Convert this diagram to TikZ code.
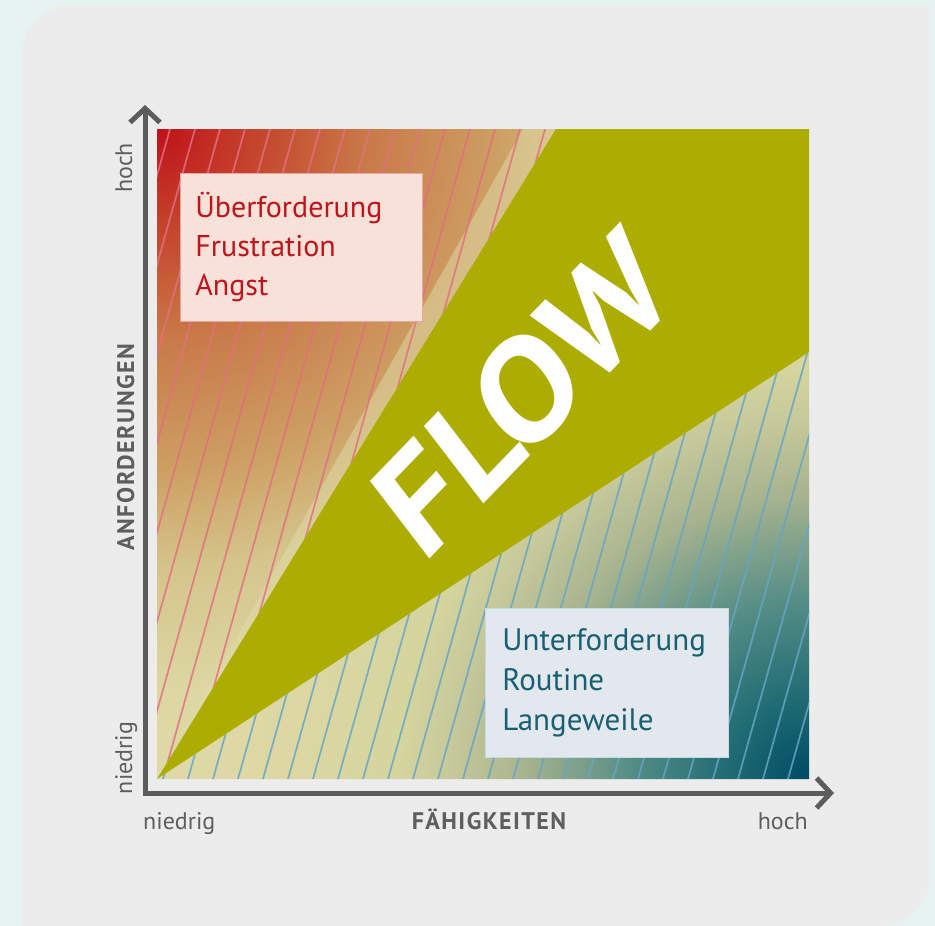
\documentclass[tikz,border=0pt]{standalone}
\usepackage{fontspec}
\setmainfont{PT Sans}
\usetikzlibrary{arrows.meta}

% palette
\definecolor{mint}{HTML}{E6F3F0}
\definecolor{panel}{HTML}{ECECEC}
\definecolor{flowgreen}{HTML}{ADAC00}
\definecolor{axisgray}{HTML}{5C5C5C}
\definecolor{labelgray}{HTML}{5E5E5E}
\definecolor{hotred}{HTML}{C0141B}
\definecolor{coolteal}{HTML}{175F72}
\definecolor{hotfill}{HTML}{F7E1D9}
\definecolor{hotline}{HTML}{E5A7A4}
\definecolor{coolfill}{HTML}{E3E8EF}
\definecolor{coolline}{HTML}{C9D9E2}
\definecolor{pinkhatch}{HTML}{E26F82}
\definecolor{bluehatch}{HTML}{65A5C6}
\definecolor{pale}{HTML}{E0DCAA}
% stops of the warm corner
\definecolor{ra}{HTML}{BF111A}
\definecolor{rb}{HTML}{C4402A}
\definecolor{rc}{HTML}{C97A48}
\definecolor{rd}{HTML}{CD9F62}
\definecolor{re}{HTML}{D5C58C}
\definecolor{rf}{HTML}{DCD7A3}
% stops of the cool corner
\definecolor{ta}{HTML}{004A63}
\definecolor{tb}{HTML}{1F6B73}
\definecolor{tc}{HTML}{568E86}
\definecolor{td}{HTML}{A8B48F}
\definecolor{te}{HTML}{C5C89A}
\definecolor{tf}{HTML}{D5D59E}

\pgfdeclareradialshading{hotfade}{\pgfpoint{0bp}{0bp}}{%
  color(0bp)=(ra); color(90bp)=(rb); color(210bp)=(rc); color(340bp)=(rd);
  color(440bp)=(re); color(560bp)=(rf); color(800bp)=(pale)}
\pgfdeclareradialshading{coolfade}{\pgfpoint{0bp}{0bp}}{%
  color(0bp)=(ta); color(80bp)=(tb); color(180bp)=(tc); color(285bp)=(td);
  color(355bp)=(te); color(410bp)=(tf); color(510bp)=(rf); color(800bp)=(pale)}

\tikzset{
  axisline/.style={draw=axisgray, line width=5pt, line join=miter,
    {Straight Barb[length=14pt,width=30pt]}-{Straight Barb[length=14pt,width=30pt]}},
  ticklabel/.style={text=labelgray, font=\fontsize{24}{28}\selectfont, inner sep=0pt},
  axistitle/.style={text=labelgray, font=\fontsize{24}{28}\selectfont\bfseries\addfontfeature{LetterSpace=6}, inner sep=0pt},
  hotbox/.style={draw=hotline, fill=hotfill, line width=0.8pt, anchor=north west,
    minimum width=242pt, minimum height=148pt, inner xsep=15pt, inner ysep=0pt,
    text width=212pt, align=left, text=hotred, font=\fontsize{30}{39}\selectfont},
  coolbox/.style={draw=coolline, fill=coolfill, line width=0.8pt, anchor=north west,
    minimum width=243pt, minimum height=149pt, inner xsep=17pt, inner ysep=0pt,
    text width=209pt, align=left, text=coolteal, font=\fontsize{31}{40}\selectfont},
  flowtext/.style={text=white, inner sep=0pt, rotate=46, xslant=0.15, xscale=1.1,
    font=\fontsize{138}{138}\selectfont\bfseries},
  hatch/.style={line width=1.7pt, opacity=0.85},
}

\begin{document}
\begin{tikzpicture}[x=1pt, y=-1pt]
  \useasboundingbox (0,0) rectangle (935,926);
  \fill[mint] (0,0) rectangle (935,926);

  % panel with two rounded corners
  \fill[panel] (22,926) -- (22,55) arc[start angle=180, end angle=270, radius=50]
    -- (930,5) -- (930,876) arc[start angle=0, end angle=90, radius=50] -- cycle;

  % corner points of the chart
  \coordinate (origin) at (157,779);
  \coordinate (tl) at (157,129);
  \coordinate (tr) at (809,129);
  \coordinate (br) at (809,779);
  \coordinate (flowtop) at (556,129);
  \coordinate (flowright) at (809,352);

  % upper-left zone: demands exceed skills
  \begin{scope}
    \clip (origin) -- (tl) -- (flowtop) -- cycle;
    \node[inner sep=0pt, outer sep=0pt] (hotshade) at (tl) {\pgfuseshading{hotfade}};
    \fill[pale, opacity=0.5] (origin) -- (523,129) -- (flowtop) -- cycle;
    \foreach \k in {-2,...,26}
      \draw[hatch, pinkhatch] ({170+25*\k},129) -- ({170+25*\k-182},779);
  \end{scope}

  % lower-right zone: skills exceed demands
  \begin{scope}
    \clip (origin) -- (flowright) -- (br) -- cycle;
    \node[inner sep=0pt, outer sep=0pt] (coolshade) at (br) {\pgfuseshading{coolfade}};
    \foreach \k in {-2,...,34}
      \draw[hatch, bluehatch] ({170+25*\k},129) -- ({170+25*\k-182},779);
  \end{scope}

  % flow channel
  \fill[flowgreen] (origin) -- (flowtop) -- (tr) -- (flowright) -- cycle;
  \node[flowtext] (flow) at (522,394) {FLOW};

  % zone labels
  \node[hotbox] (over) at (180,173) {Überforderung\\Frustration\\Angst};
  \node[coolbox] (under) at (485,608) {Unterforderung\\Routine\\Langeweile};

  % axes
  \coordinate (ytip) at (145,105);
  \coordinate (corner) at (145,793);
  \coordinate (xtip) at (834,793);
  \draw[axisline] (ytip) -- (corner) -- (xtip);

  % axis labels
  \node[ticklabel, rotate=90, anchor=base] (yhigh) at (132,168) {hoch};
  \node[ticklabel, rotate=90, anchor=base] (ylow) at (132,758) {niedrig};
  \node[axistitle, rotate=90, anchor=base] (ytitle) at (134,447) {ANFORDERUNGEN};
  \node[ticklabel, anchor=base west] (xlow) at (143,829) {niedrig};
  \node[ticklabel, anchor=base east] (xhigh) at (808,829) {hoch};
  \node[axistitle, anchor=base] (xtitle) at (489,829) {FÄHIGKEITEN};
\end{tikzpicture}
\end{document}
